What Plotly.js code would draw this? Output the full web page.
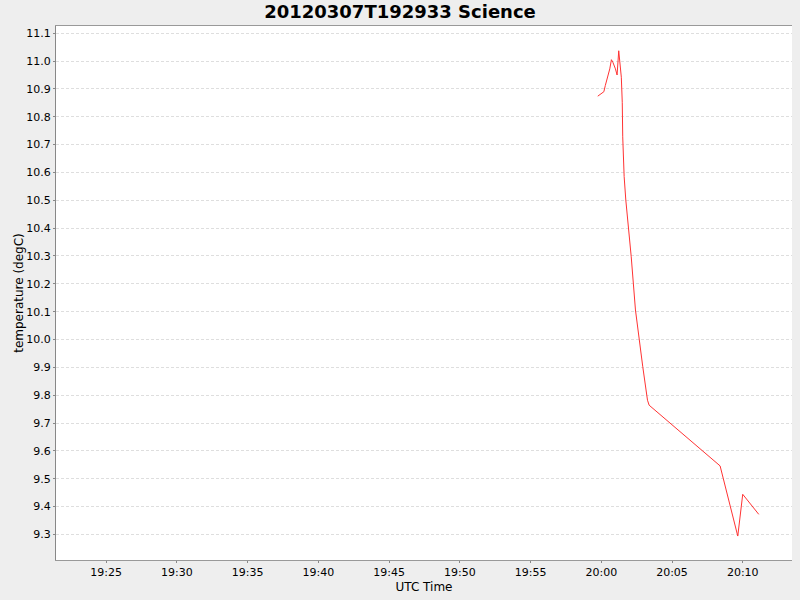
<!DOCTYPE html>
<html>
<head>
<meta charset="utf-8">
<script src="https://cdn.plot.ly/plotly-3.0.1.min.js"></script>
<style>
  html, body { margin: 0; padding: 0; background: #eeeeee; }
  #plot { width: 800px; height: 600px; }
</style>
</head>
<body>
<div id="plot"></div>
<script>
// readings from the Science log, 2012-03-07 (UTC)
var times = [
  '2012-03-07 19:59:45', '2012-03-07 19:59:59', '2012-03-07 20:00:11',
  '2012-03-07 20:00:17', '2012-03-07 20:00:28', '2012-03-07 20:00:36',
  '2012-03-07 20:00:43', '2012-03-07 20:00:49', '2012-03-07 20:01:00',
  '2012-03-07 20:01:07', '2012-03-07 20:01:14', '2012-03-07 20:01:17',
  '2012-03-07 20:01:21', '2012-03-07 20:01:25', '2012-03-07 20:01:29',
  '2012-03-07 20:01:31', '2012-03-07 20:01:37', '2012-03-07 20:01:44',
  '2012-03-07 20:02:07', '2012-03-07 20:02:25', '2012-03-07 20:02:56',
  '2012-03-07 20:03:16', '2012-03-07 20:03:23', '2012-03-07 20:08:24',
  '2012-03-07 20:09:39', '2012-03-07 20:10:00', '2012-03-07 20:11:08'
];
var temps = [
  10.874, 10.882, 10.890,
  10.912, 10.942, 10.972,
  11.005, 10.996, 10.972,
  10.950, 11.037, 11.017,
  10.990, 10.942, 10.852,
  10.728, 10.585, 10.501,
  10.297, 10.106, 9.902,
  9.782, 9.764, 9.546,
  9.294, 9.444, 9.372
];
var xRange = ['2012-03-07 19:21:27', '2012-03-07 20:13:29'];
var yRange = [9.208, 11.126];
var chartTitle = '20120307T192933 Science';

function drawChart() {
  var trace = {
    x: times,
    y: temps,
    type: 'scatter',
    mode: 'lines',
    line: {color: '#ff3333', width: 1},
    hoverinfo: 'x+y'
  };

  var font = {family: 'DejaVu Sans, sans-serif', size: 11, color: '#000'};

  var layout = {
    width: 800, height: 600,
    paper_bgcolor: '#eeeeee',
    plot_bgcolor: '#ffffff',
    margin: {l: 56, r: 8, t: 26, b: 40},
    showlegend: false,
    font: font,
    title: {
      text: '<b>' + chartTitle + '</b>',
      font: {family: 'DejaVu Sans, sans-serif', size: 18, color: '#000'},
      x: 0.5, xanchor: 'center',
      y: 0.98, yanchor: 'middle', yref: 'container'
    },
    xaxis: {
      type: 'date',
      range: xRange,
      tick0: '2012-03-07 19:25:00',
      dtick: 300000,
      tickformat: '%H:%M',
      ticks: 'outside', ticklen: 2, tickcolor: '#888',
      showline: true, linecolor: '#999', linewidth: 1, mirror: true,
      showgrid: false, zeroline: false,
      tickfont: font,
      title: {text: 'UTC Time', font: {family: 'DejaVu Sans, sans-serif', size: 12, color: '#000'}, standoff: 4}
    },
    yaxis: {
      range: yRange,
      dtick: 0.1, tick0: 9.3,
      tickformat: '.1f',
      ticks: 'outside', ticklen: 2, tickcolor: '#888',
      showline: true, linecolor: '#888', linewidth: 1,
      showgrid: true, gridcolor: '#dedede', gridwidth: 1, griddash: '3px,2px',
      zeroline: false,
      tickfont: font,
      title: {text: 'temperature (degC)', font: {family: 'DejaVu Sans, sans-serif', size: 12, color: '#000'}, standoff: 0}
    }
  };

  Plotly.newPlot('plot', [trace], layout, {staticPlot: true});
}

drawChart();
</script>
</body>
</html>
